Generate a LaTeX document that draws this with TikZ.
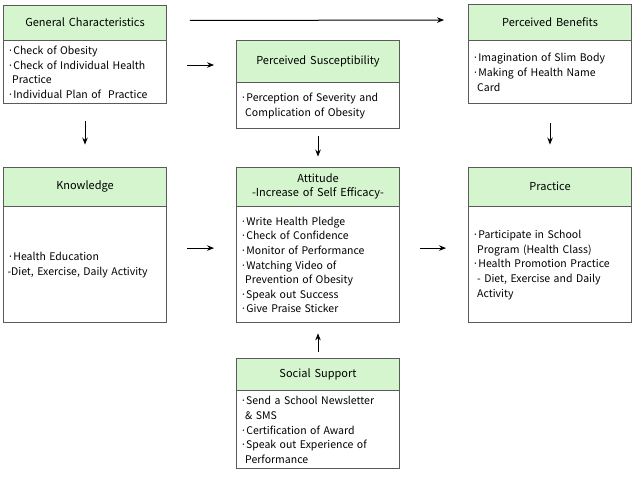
\documentclass[tikz,border=0pt]{standalone}
\usepackage{fontspec}
\setmainfont{Noto Sans CJK KR}[WordSpace=1.6]
\usetikzlibrary{positioning,calc,arrows.meta}
\definecolor{hdrgreen}{RGB}{213,245,207}
\definecolor{boxline}{RGB}{90,90,90}
\begin{document}
\begin{tikzpicture}[x=1pt,y=-1pt,
  hdr/.style={draw=boxline, line width=0.9pt, fill=hdrgreen, minimum width=163pt, inner sep=0pt, align=center, font=\fontsize{11}{13}\selectfont},
  bdy/.style={draw=boxline, line width=0.9pt, fill=white, minimum width=163pt, text width=155pt, inner xsep=4pt, inner ysep=0pt, align=left, font=\fontsize{10.5}{14.6}\selectfont},
  arr/.style={-{Stealth[length=7pt,width=5.5pt]}, line width=1pt}]
\useasboundingbox (0,0) rectangle (634,482);
% boxes
\node[hdr, minimum height=35pt] (gc) at (85,22.5) {General Characteristics};
\node[bdy, minimum height=63pt, below=0pt of gc] (gcb) {·Check of Obesity\\·Check of Individual Health\\\hspace*{0.45em}Practice\\·Individual Plan of~ Practice};
\node[hdr, minimum height=42pt] (ps) at (318,61) {Perceived Susceptibility};
\node[bdy, minimum height=46pt, below=0pt of ps] (psb) {·Perception of Severity and\\\hspace*{0.45em}Complication of Obesity};
\node[hdr, minimum height=36pt] (pb) at (550,22) {Perceived Benefits};
\node[bdy, minimum height=63pt, below=0pt of pb] (pbb) {·Imagination of Slim Body\\·Making of Health Name\\\hspace*{0.45em}Card};
\node[hdr, minimum height=39pt] (kn) at (85,186.5) {Knowledge};
\node[bdy, minimum height=116pt, below=0pt of kn] (knb) {·Health Education\\-Diet, Exercise, Daily Activity};
\node[hdr, minimum height=39pt, font=\fontsize{11}{14}\selectfont] (at) at (318,186.5) {Attitude\\-Increase of Self Efficacy-};
\node[bdy, minimum height=116pt, below=0pt of at] (atb) {·Write Health Pledge\\·Check of Confidence\\·Monitor of Performance\\·Watching Video of\\\hspace*{0.45em}Prevention of Obesity\\·Speak out Success\\·Give Praise Sticker};
\node[hdr, minimum height=39pt] (pr) at (550,186.5) {Practice};
\node[bdy, minimum height=116pt, below=0pt of pr] (prb) {·Participate in School\\\hspace*{0.45em}Program (Health Class)\\·Health Promotion Practice\\\hspace*{0.45em}- Diet, Exercise and Daily\\\hspace*{0.45em}Activity};
\node[hdr, minimum height=32pt] (ss) at (318,374) {Social Support};
\node[bdy, minimum height=78pt, below=0pt of ss] (ssb) {·Send a School Newsletter\\\hspace*{0.45em}\& SMS\\·Certification of Award\\·Speak out Experience of\\\hspace*{0.45em}Performance};
% arrows
\draw[arr, shorten <=23pt, shorten >=24pt] ($(gc.east)+(0,-2)$) -- ($(pb.west)+(0,-2)$);
\draw[arr, shorten <=20pt, shorten >=22pt] ($(ps.west -| gcb.east)+(0,4)$) -- ($(ps.west)+(0,4)$);
\draw[arr, shorten <=17pt, shorten >=22pt] (gcb.south) -- (kn.north);
\draw[arr, shorten <=7pt, shorten >=10pt] (psb.south) -- (at.north);
\draw[arr, shorten <=19pt, shorten >=22pt] (pbb.south) -- (pr.north);
\draw[arr, shorten <=6pt, shorten >=10pt] (ss.north) -- (atb.south);
\draw[arr, shorten <=20pt, shorten >=22pt] ($(kn.north east)!0.52!(knb.south east)$) -- ($(at.north west)!0.52!(atb.south west)$);
\draw[arr, shorten <=20pt, shorten >=22pt] ($(at.north east)!0.52!(atb.south east)$) -- ($(pr.north west)!0.52!(prb.south west)$);
\end{tikzpicture}
\end{document}
